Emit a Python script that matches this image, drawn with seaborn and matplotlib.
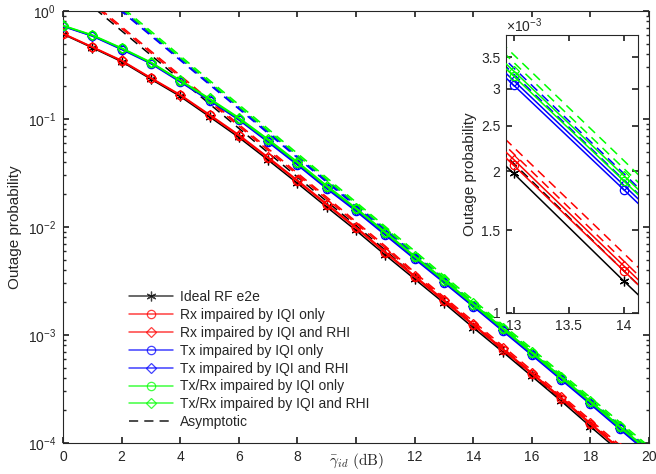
import numpy as np
import pandas as pd
import matplotlib
matplotlib.use("Agg")
import matplotlib.pyplot as plt
import seaborn as sns
from matplotlib.lines import Line2D
from matplotlib.ticker import FixedLocator, NullLocator, FixedFormatter

# ---------------- data ----------------
snr_db = list(range(21))
x_tick_vals = list(range(0, 21, 2))
x_tick_labels = ["0", "2", "4", "6", "8", "", "12", "14", "16", "18", "20"]

ideal = [0.61, 0.457, 0.34, 0.234, 0.162, 0.105, 0.0676, 0.0417, 0.0254, 0.0153,
         9.3e-3, 5.5e-3, 3.3e-3, 1.98e-3, 1.17e-3, 7.0e-4, 4.15e-4, 2.45e-4, 1.42e-4, 8.3e-5, 4.8e-5]
rx_iqi = [0.615, 0.462, 0.345, 0.238, 0.166, 0.108, 0.070, 0.0433, 0.0265, 0.0160,
          9.75e-3, 5.75e-3, 3.45e-3, 2.06e-3, 1.23e-3, 7.3e-4, 4.35e-4, 2.57e-4, 1.49e-4, 8.7e-5, 5.0e-5]
rx_rhi = [0.62, 0.466, 0.349, 0.241, 0.168, 0.110, 0.0715, 0.0443, 0.0272, 0.0164,
          1.0e-2, 5.9e-3, 3.54e-3, 2.12e-3, 1.26e-3, 7.5e-4, 4.47e-4, 2.64e-4, 1.53e-4, 8.9e-5, 5.2e-5]
tx_iqi = [0.72, 0.585, 0.44, 0.325, 0.22, 0.148, 0.098, 0.061, 0.0375, 0.0226,
          0.0140, 8.4e-3, 5.05e-3, 3.05e-3, 1.83e-3, 1.09e-3, 6.5e-4, 3.85e-4, 2.28e-4, 1.34e-4, 7.9e-5]
tx_rhi = [0.725, 0.59, 0.445, 0.329, 0.223, 0.150, 0.0995, 0.0622, 0.0384, 0.0232,
          0.0144, 8.62e-3, 5.18e-3, 3.12e-3, 1.87e-3, 1.12e-3, 6.67e-4, 3.95e-4, 2.34e-4, 1.37e-4, 8.1e-5]
txrx_iqi = [0.73, 0.595, 0.45, 0.332, 0.226, 0.152, 0.101, 0.0635, 0.0392, 0.0236,
            0.0147, 8.8e-3, 5.28e-3, 3.19e-3, 1.91e-3, 1.14e-3, 6.8e-4, 4.03e-4, 2.39e-4, 1.40e-4, 8.3e-5]
txrx_rhi = [0.735, 0.60, 0.455, 0.336, 0.229, 0.155, 0.103, 0.065, 0.0402, 0.0242,
            0.0150, 9.0e-3, 5.4e-3, 3.27e-3, 1.96e-3, 1.17e-3, 6.96e-4, 4.12e-4, 2.45e-4, 1.43e-4, 8.5e-5]

# asymptotic curves
asy_ideal = [1.85, 1.1, 0.655, 0.39, 0.232, 0.138, 0.082, 0.0488, 0.029, 0.0173,
             0.0103, 6.1e-3, 3.5e-3, 2.08e-3, 1.23e-3, 7.3e-4, 4.3e-4, 2.55e-4, 1.5e-4, 8.8e-5, 5.2e-5]
asy_rx_iqi = [1.95, 1.16, 0.69, 0.41, 0.244, 0.145, 0.086, 0.0513, 0.0305, 0.0182,
              0.0108, 6.4e-3, 3.68e-3, 2.18e-3, 1.29e-3, 7.65e-4, 4.5e-4, 2.68e-4, 1.57e-4, 9.2e-5, 5.45e-5]
asy_rx_rhi = [2.0, 1.2, 0.715, 0.425, 0.253, 0.150, 0.089, 0.0532, 0.0316, 0.0189,
              0.0112, 6.65e-3, 3.8e-3, 2.25e-3, 1.34e-3, 7.95e-4, 4.7e-4, 2.78e-4, 1.63e-4, 9.6e-5, 5.65e-5]
asy_tx_iqi = [2.8, 1.67, 0.99, 0.59, 0.35, 0.208, 0.124, 0.0735, 0.0437, 0.026,
              0.0155, 9.2e-3, 5.45e-3, 3.22e-3, 1.92e-3, 1.14e-3, 6.8e-4, 4.03e-4, 2.4e-4, 1.42e-4, 8.45e-5]
asy_tx_rhi = [2.9, 1.72, 1.02, 0.61, 0.36, 0.214, 0.128, 0.0757, 0.045, 0.0268,
              0.016, 9.5e-3, 5.62e-3, 3.32e-3, 1.98e-3, 1.17e-3, 7.0e-4, 4.15e-4, 2.47e-4, 1.46e-4, 8.7e-5]
asy_txrx_iqi = [2.97, 1.77, 1.05, 0.625, 0.371, 0.22, 0.131, 0.078, 0.0463, 0.0276,
                0.0164, 9.75e-3, 5.78e-3, 3.41e-3, 2.03e-3, 1.21e-3, 7.2e-4, 4.27e-4, 2.54e-4, 1.5e-4, 8.95e-5]
asy_txrx_rhi = [3.08, 1.84, 1.09, 0.65, 0.385, 0.228, 0.136, 0.081, 0.048, 0.0286,
                0.017, 0.0101, 6.0e-3, 3.54e-3, 2.11e-3, 1.25e-3, 7.47e-4, 4.43e-4, 2.64e-4, 1.56e-4, 9.3e-5]

labels = ["Ideal RF e2e", "Rx impaired by IQI only", "Rx impaired by IQI and RHI",
          "Tx impaired by IQI only", "Tx impaired by IQI and RHI",
          "Tx/Rx impaired by IQI only", "Tx/Rx impaired by IQI and RHI"]
exact_series = [ideal, rx_iqi, rx_rhi, tx_iqi, tx_rhi, txrx_iqi, txrx_rhi]
asym_series = [asy_ideal, asy_rx_iqi, asy_rx_rhi, asy_tx_iqi, asy_tx_rhi, asy_txrx_iqi, asy_txrx_rhi]
colors = ["#000000", "#ff0000", "#ff0000", "#0000ff", "#0000ff", "#00ff00", "#00ff00"]
markers = [(6, 2, 0), "o", "D", "o", "D", "o", "D"]
msizes = [7, 6, 5, 6, 5, 6, 5]

inset_y_ticks = [1e-3, 1.5e-3, 2e-3, 2.5e-3, 3e-3, 3.5e-3]
inset_y_labels = ["1", "1.5", "2", "2.5", "3", "3.5"]
inset_x_ticks = [13, 13.5, 14]
inset_x_labels = ["13", "13.5", "14"]

# ---------------- style ----------------
sns.set_theme(style="ticks")
plt.rcParams["font.family"] = ["Liberation Sans", "DejaVu Sans"]
plt.rcParams["mathtext.fontset"] = "custom"
plt.rcParams["mathtext.rm"] = "Liberation Sans"
plt.rcParams["mathtext.it"] = "Liberation Sans:italic"
plt.rcParams["mathtext.bf"] = "Liberation Sans:bold"
spine_c = "#262626"
plt.rcParams["axes.edgecolor"] = spine_c
plt.rcParams["xtick.color"] = spine_c
plt.rcParams["ytick.color"] = spine_c
plt.rcParams["axes.linewidth"] = 0.8

fig = plt.figure(figsize=(6.56, 4.74), dpi=100)
W, H = 656, 474
ax = fig.add_axes([63 / W, 1 - 443 / H, (649 - 63) / W, (443 - 11) / H])


def draw(axis):
    for vals, c, m, ms in zip(exact_series, colors, markers, msizes):
        sns.lineplot(x=snr_db, y=vals, ax=axis, color=c, lw=1.1, marker=m, ms=ms,
                     mfc="none", mec=c, mew=0.9, legend=False, zorder=3)
    for vals, c in zip(asym_series, colors):
        sns.lineplot(x=snr_db, y=vals, ax=axis, color=c, lw=1.1,
                     linestyle=(0, (6, 4)), legend=False, zorder=2)


draw(ax)
ax.set_yscale("log")
ax.set_xlim(0, 20)
ax.set_ylim(1e-4, 1)
ax.set_xticks(x_tick_vals)
ax.set_xticklabels(x_tick_labels)
ax.tick_params(axis="both", which="both", direction="in", top=True, right=True,
               labelsize=10, pad=5)
ax.tick_params(axis="both", which="major", length=4)
ax.tick_params(axis="y", which="minor", length=2.5)
ax.set_ylabel("Outage probability", fontsize=11, labelpad=4)
ax.set_xlabel(r"$\bar{\gamma}_{id}\ \mathrm{(dB)}$", fontsize=11, math_fontfamily="cm")
ax.xaxis.set_label_coords(0.5, -0.018)
for s in ax.spines.values():
    s.set_visible(True)

# legend
handles = []
for c, m, ms in zip(colors, markers, msizes):
    handles.append(Line2D([], [], color=c, lw=1.1, marker=m, ms=ms, mfc="none", mec=c, mew=0.9, alpha=0.75))
handles.append(Line2D([], [], color="k", lw=1.1, linestyle=(0, (6, 4))))
leg = fig.legend(handles, labels + ["Asymptotic"], loc="upper left",
                 bbox_to_anchor=(129 / W, 1 - 290 / H), bbox_transform=fig.transFigure,
                 frameon=False, fontsize=10, handlelength=3.2, handletextpad=0.45,
                 labelspacing=0.28, borderpad=0, borderaxespad=0)

# inset
axi = fig.add_axes([506 / W, 1 - 313 / H, (638 - 506) / W, (313 - 35) / H])
draw(axi)
axi.set_yscale("log")
axi.set_xlim(12.93, 14.13)
axi.set_ylim(1e-3, 3.9e-3)
axi.set_xticks(inset_x_ticks)
axi.set_xticklabels(inset_x_labels)
axi.yaxis.set_major_locator(FixedLocator(inset_y_ticks))
axi.yaxis.set_major_formatter(FixedFormatter(inset_y_labels))
axi.yaxis.set_minor_locator(NullLocator())
axi.tick_params(axis="both", which="both", direction="in", top=True, right=True,
                labelsize=10, length=4, pad=4)
axi.set_ylabel("Outage probability", fontsize=11, labelpad=3)
axi.set_xlabel("")
axi.set_facecolor("white")
axi.text(0.0, 1.0, r"$\times\mathdefault{10^{-3}}$", transform=axi.transAxes,
         ha="left", va="bottom", fontsize=10, color=spine_c)

fig.savefig("out.png", dpi=100)
